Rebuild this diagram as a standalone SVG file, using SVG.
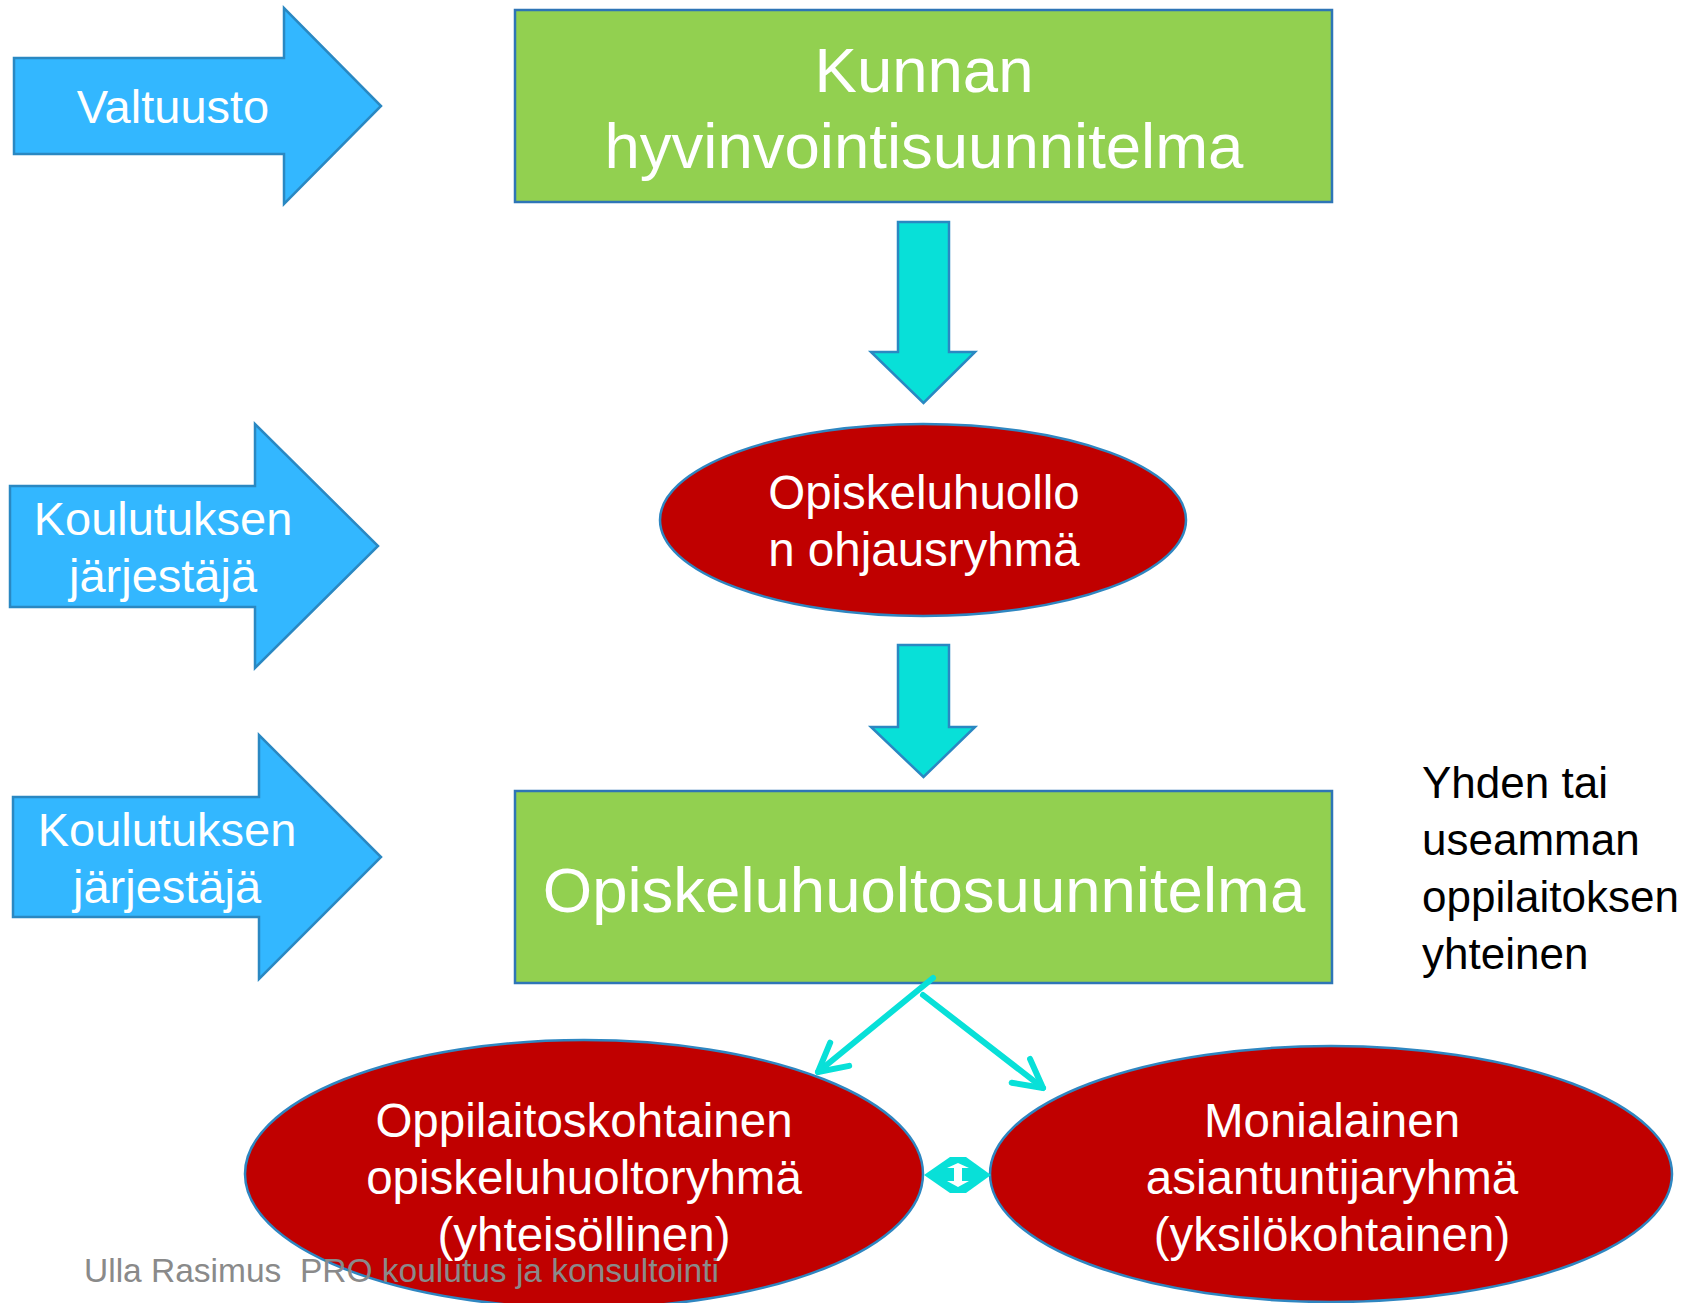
<svg xmlns="http://www.w3.org/2000/svg" width="1686" height="1303" viewBox="0 0 1686 1303">
<style>
.bluearrow{fill:#33B7FF;stroke:#2A88C2;stroke-width:2.5;stroke-linejoin:miter}
.greenbox{fill:#92D050;stroke:#2E75B6;stroke-width:2.5}
.redell{fill:#C00000;stroke:#2E86C1;stroke-width:2.5}
.cyanarrow{fill:#08E0D8;stroke:#2A88C2;stroke-width:2.5}
.conn{fill:none;stroke:#08E0D8;stroke-width:6;stroke-linecap:round}
.wt{fill:#FFFFFF;font-family:"Liberation Sans",Arial,sans-serif;text-anchor:middle}
.bt{fill:#000000;font-family:"Liberation Sans",Arial,sans-serif;font-size:44px}
.ft{fill:#8A8A8A;font-family:"Liberation Sans",Arial,sans-serif;font-size:33.5px;white-space:pre}
</style>
<defs>
<marker id="openhead" markerUnits="userSpaceOnUse" viewBox="-34 -20 40 40" refX="0" refY="0" markerWidth="40" markerHeight="40" orient="auto" overflow="visible">
<path d="M -28,-15 L 0,0 L -28,15" fill="none" stroke="#08E0D8" stroke-width="6" stroke-linecap="round" stroke-linejoin="round"/>
</marker>
</defs>
<rect width="1686" height="1303" fill="#FFFFFF"/>

<g id="valtuusto">
<polygon class="bluearrow" points="14,58 284,58 284,8 381,106 284,204 284,154 14,154"/>
<text class="wt" x="173" y="123" font-size="47">Valtuusto</text>
</g>

<g id="kunnan">
<rect class="greenbox" x="515" y="10" width="817" height="192"/>
<text class="wt" x="924" y="92" font-size="63.5">Kunnan</text>
<text class="wt" x="924" y="168" font-size="63.5">hyvinvointisuunnitelma</text>
</g>

<g id="arrow-down-1">
<polygon class="cyanarrow" points="898,222 949,222 949,352 975,352 923.5,403 871,352 898,352"/>
</g>

<g id="koulutus1">
<polygon class="bluearrow" points="10,486 255,486 255,424 378,546 255,668 255,607 10,607"/>
<text class="wt" x="163" y="535" font-size="47">Koulutuksen</text>
<text class="wt" x="163" y="592" font-size="47">järjestäjä</text>
</g>

<g id="ohjausryhma">
<ellipse class="redell" cx="923" cy="520" rx="263" ry="96"/>
<text class="wt" x="924" y="509" font-size="47.5">Opiskeluhuollo</text>
<text class="wt" x="924" y="566" font-size="47.5">n ohjausryhmä</text>
</g>

<g id="arrow-down-2">
<polygon class="cyanarrow" points="898,645 949,645 949,727 975,727 923.5,777 871,727 898,727"/>
</g>

<g id="koulutus2">
<polygon class="bluearrow" points="13,797 259,797 259,735 381,857 259,979 259,917 13,917"/>
<text class="wt" x="167" y="846" font-size="47">Koulutuksen</text>
<text class="wt" x="167" y="903" font-size="47">järjestäjä</text>
</g>

<g id="opiskeluhuoltosuunnitelma">
<rect class="greenbox" x="515" y="791" width="817" height="192"/>
<text class="wt" x="924" y="912" font-size="63.5">Opiskeluhuoltosuunnitelma</text>
</g>

<g id="note">
<text class="bt" x="1422" y="798">Yhden tai</text>
<text class="bt" x="1422" y="855">useamman</text>
<text class="bt" x="1422" y="912">oppilaitoksen</text>
<text class="bt" x="1422" y="969">yhteinen</text>
</g>

<g id="oppilaitoskohtainen">
<ellipse class="redell" cx="584" cy="1174" rx="339" ry="134"/>
<text class="wt" x="584" y="1137" font-size="47.5">Oppilaitoskohtainen</text>
<text class="wt" x="584" y="1194" font-size="47.5">opiskeluhuoltoryhmä</text>
<text class="wt" x="584" y="1251" font-size="47.5">(yhteisöllinen)</text>
</g>

<g id="monialainen">
<ellipse class="redell" cx="1331" cy="1174" rx="341" ry="128"/>
<text class="wt" x="1332" y="1137" font-size="47.5">Monialainen</text>
<text class="wt" x="1332" y="1194" font-size="47.5">asiantuntijaryhmä</text>
<text class="wt" x="1332" y="1251" font-size="47.5">(yksilökohtainen)</text>
</g>

<g id="connectors">
<line class="conn" x1="933" y1="978" x2="818" y2="1072" marker-end="url(#openhead)"/>
<line class="conn" x1="923" y1="995" x2="1043" y2="1088" marker-end="url(#openhead)"/>
<g id="double-arrow">
<polygon points="924,1175 950,1157 966,1157 991,1175 966,1193 950,1193" fill="#08E0D8"/>
<polygon points="958,1163 969,1168 962,1168 962,1181 969,1181 958,1187 947,1181 954,1181 954,1168 947,1168" fill="#FFFFFF"/>
</g>
</g>

<g id="footer">
<text class="ft" x="84" y="1282">Ulla Rasimus  PRO koulutus ja konsultointi</text>
</g>
</svg>
